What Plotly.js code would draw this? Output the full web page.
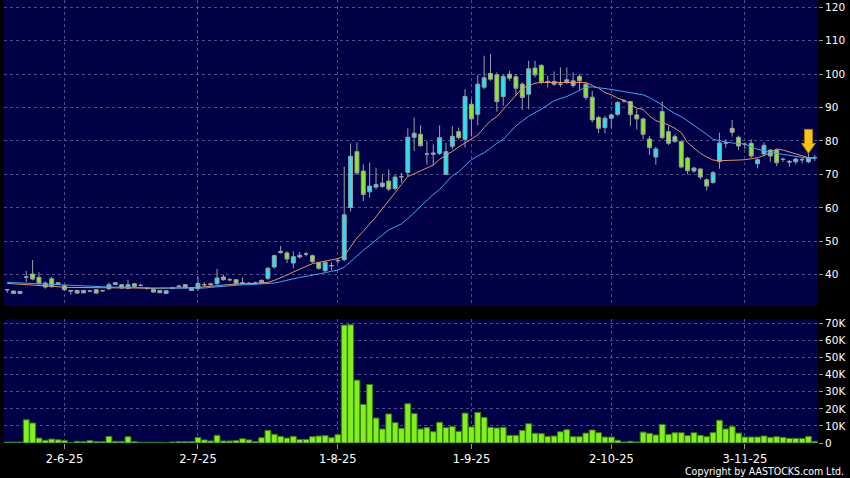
<!DOCTYPE html>
<html>
<head>
<meta charset="utf-8">
<script src="https://cdn.plot.ly/plotly-3.0.1.min.js"></script>
<style>
  html, body { margin: 0; padding: 0; background: #000; }
  #chart { width: 850px; height: 478px; }
</style>
</head>
<body>
<div id="chart"></div>
<script>
// Daily OHLC (one entry per trading session)
const openPx = [35.5,35.1,35.0,39.3,40.2,39.2,37.5,38.8,37.1,36.7,
  35.3,35.3,35.3,35.1,35.5,35.2,35.8,37.6,37.0,35.9,
  37.3,36.8,35.9,35.6,35.3,34.4,35.9,36.6,37.0,36.0,
  35.8,37.0,37.3,37.3,39.3,38.5,38.5,37.6,37.4,37.4,
  37.5,38.9,42.3,47.0,46.5,43.5,45.8,46.2,45.7,43.6,
  41.2,42.7,44.2,44.5,60.1,76.8,71.0,64.8,66.2,66.4,
  68.0,65.8,69.3,70.6,81.1,82.0,76.1,76.0,76.3,70.0,
  78.4,82.8,80.5,91.0,88.0,96.1,100.2,99.8,93.3,100.0,
  99.2,97.0,94.0,101.8,102.6,97.8,97.8,97.0,97.6,98.0,
  99.3,97.0,93.1,87.0,84.0,86.8,88.0,92.0,91.8,87.8,
  86.6,80.6,75.2,88.8,82.8,81.3,79.8,74.9,71.0,71.6,
  68.4,67.6,73.9,79.4,83.8,81.1,79.0,79.3,73.2,76.1,
  77.3,77.3,74.5,73.9,73.8,74.4,73.8,75.0];
const highPx = [35.7,35.2,35.0,41.1,44.4,40.7,38.0,39.3,37.8,37.0,
  35.4,35.4,35.4,35.4,35.6,35.5,37.6,37.8,37.2,38.5,
  37.5,37.3,36.3,35.8,35.4,35.4,36.4,37.0,37.2,36.3,
  39.4,37.8,37.6,41.7,40.0,39.0,38.7,39.2,37.8,37.9,
  38.6,42.3,46.0,48.6,47.0,47.0,46.8,46.8,46.0,43.8,
  44.0,43.7,45.0,72.3,79.3,79.5,73.0,73.6,72.0,70.0,
  71.5,69.8,70.5,83.8,87.0,84.7,79.9,79.0,84.7,79.5,
  84.5,84.0,95.5,92.5,99.7,105.5,106.0,100.5,100.0,101.0,
  100.0,97.5,104.0,104.0,103.0,99.5,100.8,102.0,102.0,100.5,
  100.0,97.5,95.0,87.5,87.5,88.2,92.0,92.5,92.0,89.5,
  87.0,81.5,78.2,91.8,84.5,82.0,80.2,75.3,72.3,72.0,
  68.8,71.0,82.5,80.5,86.3,81.6,79.6,80.5,74.8,79.5,
  77.5,77.5,75.0,74.3,75.0,75.0,76.3,75.8];
const lowPx = [34.6,34.3,34.3,37.8,38.3,37.0,35.8,36.2,36.9,35.2,
  34.0,34.3,34.4,34.8,34.3,35.0,35.4,37.0,35.8,35.7,
  36.3,36.5,35.5,34.6,34.5,34.3,35.7,36.3,36.0,35.2,
  35.3,36.3,36.8,37.0,38.2,38.0,37.0,37.1,37.1,37.2,
  37.3,38.4,41.8,46.3,43.5,41.9,44.8,45.5,43.5,41.5,
  40.8,41.3,43.3,44.0,58.9,69.8,62.0,63.0,65.5,66.0,
  65.0,65.2,67.5,69.3,77.0,78.3,72.9,72.7,75.8,69.8,
  77.5,80.5,78.0,81.3,84.7,95.5,98.0,88.8,90.5,98.0,
  93.5,89.3,89.5,99.0,97.0,96.0,96.5,96.2,97.0,96.0,
  95.3,92.3,85.5,82.3,82.3,83.8,87.5,91.5,84.5,83.5,
  80.5,75.8,72.9,80.5,78.8,79.5,71.8,70.0,70.5,68.5,
  65.2,67.2,71.7,78.0,81.3,77.3,77.5,75.0,71.8,75.5,
  73.8,72.5,73.8,72.3,73.0,73.3,73.3,74.0];
const closePx = [35.5,34.4,34.4,39.3,38.7,37.4,36.3,36.4,37.6,35.5,
  35.1,34.5,34.6,35.1,34.5,35.2,37.0,37.1,36.0,37.0,
  36.5,36.8,35.9,34.8,34.6,35.2,36.0,36.5,36.2,35.3,
  37.4,37.0,37.0,39.0,38.5,38.5,37.3,37.3,37.4,37.5,
  38.3,41.9,45.7,46.6,44.7,45.4,45.3,46.2,43.9,41.9,
  43.7,42.7,44.2,57.9,75.4,70.4,64.0,66.5,67.0,67.4,
  65.6,69.2,69.3,81.1,82.3,78.6,76.1,76.4,81.0,76.8,
  81.4,81.0,93.3,86.6,97.0,98.9,98.5,91.8,99.3,98.8,
  95.8,93.0,101.6,99.8,97.6,97.8,97.0,97.0,98.3,96.6,
  98.0,93.0,86.3,83.8,86.8,87.8,91.5,92.0,87.9,86.6,
  82.0,78.0,77.6,81.0,79.3,79.9,72.2,71.1,71.9,69.2,
  66.5,70.5,79.4,79.4,82.6,78.5,79.0,75.5,74.4,78.7,
  75.5,73.5,74.5,73.7,74.6,74.4,75.0,75.0];

// Daily volume (shares)
const volume = [500,500,500,13600,11700,2900,1600,2300,1900,1400,
  200,1000,800,1400,800,800,3900,1000,1000,3700,
  800,400,400,400,400,200,600,800,800,800,
  3300,1800,1200,4500,1200,1200,1400,2500,1800,800,
  3100,7400,5100,3900,2900,3900,2100,2100,3700,4100,
  4300,3100,4900,69000,69200,36800,22600,34300,14600,8200,
  17000,11900,8600,23000,17200,8200,9000,6600,12100,9000,
  9600,6800,17500,9400,17900,15000,9200,8800,9200,4500,
  4500,7400,11300,5700,5500,3900,4100,6600,7800,3700,
  3700,5800,7600,6000,3500,3500,1600,600,1000,600,
  6400,5700,4700,10900,5100,6000,6000,4300,6000,4500,
  3700,6200,13300,8200,9600,5800,3500,3500,3500,4100,
  3300,3700,3300,2700,2700,2700,3900,1000];

// Moving averages as plotted (short = 10-day, long = 20-day)
const maShort = [37.4,37.3,37.2,37.1,36.9,36.8,36.6,36.5,36.4,36.2,
  36.2,36.1,36.1,36.0,36.0,36.0,36.0,36.0,36.0,36.0,
  36.0,36.0,35.9,35.9,35.9,35.9,35.9,36.0,36.0,36.1,
  36.2,36.3,36.5,36.7,36.9,37.1,37.2,37.3,37.3,37.4,
  37.4,37.7,38.3,39.0,39.9,40.8,41.7,42.6,43.3,43.7,
  44.0,44.4,44.8,45.6,48.5,51.0,53.0,55.0,57.3,59.8,
  62.0,64.5,67.0,69.4,70.2,71.0,71.8,72.8,74.5,75.6,
  76.9,78.2,79.4,80.8,81.8,84.0,86.0,87.3,89.5,91.5,
  93.6,95.8,96.5,97.3,97.5,97.5,97.5,97.5,97.5,97.5,
  97.5,97.5,96.6,95.8,94.5,93.8,92.8,92.2,91.0,89.8,
  89.4,87.5,86.1,85.5,84.8,83.8,82.5,79.5,78.0,76.3,
  75.2,74.3,74.1,74.1,74.2,74.3,74.4,74.6,75.0,75.6,
  76.6,77.6,77.3,76.7,76.2,75.6,75.0,74.9];
const maLong = [37.7,37.6,37.5,37.4,37.3,37.2,37.1,37.1,37.0,36.8,
  36.8,36.7,36.6,36.5,36.4,36.4,36.3,36.3,36.2,36.2,
  36.2,36.1,36.1,36.0,36.0,36.0,35.9,35.9,35.9,35.9,
  35.9,36.0,36.2,36.4,36.6,36.8,36.9,37.0,37.0,37.1,
  37.1,37.2,37.5,37.9,38.4,38.8,39.2,39.5,39.8,40.2,
  40.6,41.0,41.4,42.2,43.8,45.6,47.3,48.8,50.4,52.0,
  53.4,54.3,55.2,56.8,58.6,60.6,62.3,64.0,65.5,67.6,
  69.6,70.8,72.5,74.4,75.5,76.5,77.8,79.3,80.5,82.5,
  84.5,86.0,87.4,88.5,89.5,90.8,92.0,92.7,93.3,94.2,
  95.2,96.1,96.2,96.0,95.7,95.4,95.1,94.8,94.4,94.0,
  93.8,93.0,92.0,90.8,89.4,88.2,87.3,86.0,84.6,83.5,
  82.0,80.5,80.0,79.7,79.4,79.3,79.1,78.3,77.5,77.2,
  76.5,76.3,76.0,75.5,75.3,75.1,74.8,74.8];

// Date axis labels and the sessions they fall on
const tickIndex = [9, 30, 52, 73, 95, 116];
const tickLabels = ['2-6-25', '2-7-25', '1-8-25', '1-9-25', '2-10-25', '3-11-25'];

// Volume axis labels
const volTickVals = [0, 10000, 20000, 30000, 40000, 50000, 60000, 70000];
const volTickText = ['0', '10K', '20K', '30K', '40K', '50K', '60K', '70K'];

// Session flagged with the marker arrow
const markedSession = 126;

const session = openPx.map((_, i) => i);

const GRID = '#4f4f86';
const TICK = '#9a9a9a';
const FONT = 'DejaVu Sans, Verdana, sans-serif';

const traces = [
  {
    type: 'candlestick',
    x: session, open: openPx, high: highPx, low: lowPx, close: closePx,
    xaxis: 'x', yaxis: 'y',
    whiskerwidth: 0,
    increasing: { line: { color: '#9aa0a8', width: 1 }, fillcolor: '#1fe6f2' },
    decreasing: { line: { color: '#9aa0a8', width: 1 }, fillcolor: '#86ec22' },
    hoverinfo: 'skip', showlegend: false
  },
  {
    type: 'scatter', mode: 'lines', x: session, y: maShort,
    xaxis: 'x', yaxis: 'y',
    line: { color: '#e09468', width: 1 }, hoverinfo: 'skip', showlegend: false
  },
  {
    type: 'scatter', mode: 'lines', x: session, y: maLong,
    xaxis: 'x', yaxis: 'y',
    line: { color: '#3fa6ee', width: 1 }, hoverinfo: 'skip', showlegend: false
  },
  {
    type: 'bar', x: session, y: volume,
    xaxis: 'x', yaxis: 'y2',
    marker: { color: '#82f01e', line: { color: '#3a7a08', width: 1 } },
    hoverinfo: 'skip', showlegend: false
  }
];

const layout = {
  width: 850, height: 478,
  margin: { l: 4, r: 32, t: 0, b: 35 },
  paper_bgcolor: '#000000',
  plot_bgcolor: '#000046',
  font: { family: FONT, color: '#ffffff', size: 11 },
  showlegend: false,
  hovermode: false,
  boxgap: 0.12,
  bargap: 0.08,
  xaxis: {
    anchor: 'y2',
    range: [-0.5, 127.5],
    tickmode: 'array', tickvals: tickIndex, ticktext: tickLabels,
    ticks: 'outside', ticklen: 5, tickcolor: TICK, tickwidth: 1,
    tickfont: { family: FONT, size: 11.5, color: '#ffffff' },
    showgrid: true, gridcolor: GRID, griddash: '3px,3px', gridwidth: 1,
    zeroline: false, showline: false,
    rangeslider: { visible: false }
  },
  yaxis: {
    domain: [0.3093, 1],
    range: [30.64, 122.18],
    side: 'right',
    dtick: 10, tick0: 0,
    ticks: 'outside', ticklen: 4, tickcolor: TICK, tickwidth: 1,
    tickfont: { family: FONT, size: 10.5, color: '#ffffff' },
    showgrid: true, gridcolor: GRID, griddash: '3px,3px', gridwidth: 1,
    zeroline: false, showline: false
  },
  yaxis2: {
    domain: [0, 0.2799],
    range: [0, 72570],
    side: 'right',
    tickmode: 'array', tickvals: volTickVals, ticktext: volTickText,
    ticks: 'outside', ticklen: 4, tickcolor: TICK, tickwidth: 1,
    tickfont: { family: FONT, size: 10.5, color: '#ffffff' },
    showgrid: true, gridcolor: GRID, griddash: '3px,3px', gridwidth: 1,
    zeroline: false, showline: false
  },
  shapes: [
    {
      // downward block arrow sitting on the flagged session's high
      type: 'path', xref: 'x', yref: 'y',
      xsizemode: 'pixel', ysizemode: 'pixel',
      xanchor: session[markedSession], yanchor: highPx[markedSession],
      path: 'M0,0 L-7,10 L-4,10 L-4,24 L4,24 L4,10 L7,10 Z',
      fillcolor: '#f6c614', line: { color: '#b07a00', width: 1 }
    }
  ],
  annotations: [
    {
      xref: 'paper', yref: 'paper', x: 1.034, y: -0.063,
      xanchor: 'right', yanchor: 'middle',
      text: 'Copyright by AASTOCKS.com Ltd.', showarrow: false,
      font: { family: 'DejaVu Sans Condensed, Liberation Sans Narrow, Liberation Sans, sans-serif', size: 10.5, color: '#ffffff' }
    }
  ]
};

Plotly.newPlot('chart', traces, layout, { staticPlot: true, displayModeBar: false });
</script>
</body>
</html>
